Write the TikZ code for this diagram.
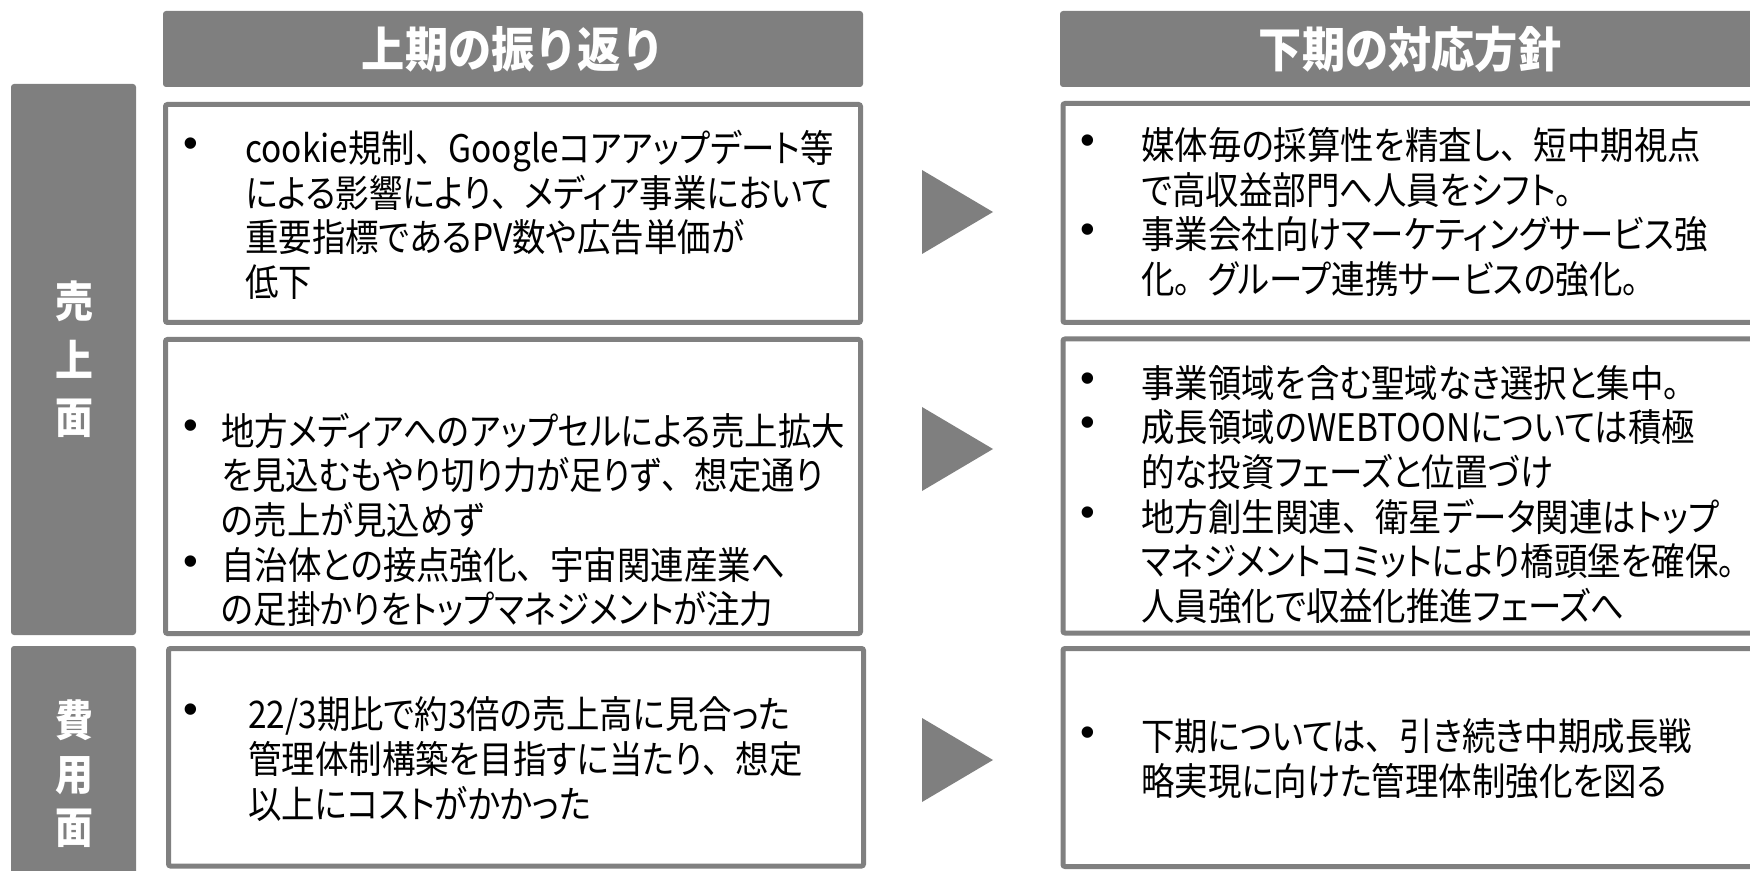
\documentclass[tikz,border=0pt]{standalone}
\usepackage{fontspec}
\setmainfont{Noto Sans CJK JP}[RawFeature={+palt}, FakeStretch=0.88]
\newfontfamily\fwfont{Noto Sans CJK JP}[FakeStretch=0.88]
\newfontfamily\hdrfont{Noto Sans CJK JP}[FakeStretch=0.9]
\newfontfamily\bulfont{Liberation Sans}
\newcommand\tn{{\fwfont 、}}
\newcommand\mr{{\fwfont 。}}
\definecolor{hdrgray}{HTML}{7F7F7F}
\definecolor{boxgray}{HTML}{808080}
\begin{document}
\begin{tikzpicture}[x=0.5pt,y=-0.5pt,
  hdr/.style={fill=hdrgray, draw=none, rounded corners=1.5pt},
  txtbox/.style={draw=boxgray, line width=2.5pt, fill=white, rounded corners=1pt},
  body/.style={font=\fontsize{19}{22.3}\selectfont, align=left, anchor=west, inner sep=0pt, text=black},
  bul/.style={font=\bulfont\fontsize{21}{21}\selectfont, inner sep=0pt},
  tri/.style={fill=hdrgray, draw=none},
  htext/.style={text=white, font=\hdrfont\bfseries\fontsize{24}{24}\selectfont, inner sep=0pt},
  ltext/.style={text=white, font=\bfseries\fontsize{21.5}{21.5}\selectfont, inner sep=0pt}]
\useasboundingbox (0,0) rectangle (1750,871);
\clip (0,0) rectangle (1750,871);
% headers
\fill[hdr] (163,11) rectangle (863,87);
\fill[hdr] (1060,11) rectangle (1770,87);
\node[htext] (h1) at (513,49) {上期の振り返り};
\node[htext] (h2) at (1410,49) {下期の対応方針};
% left labels
\fill[hdr] (11,84) rectangle (136,635);
\fill[hdr] (11,646) rectangle (136,880);
\node[ltext] (s1) at (74,301) {売};
\node[ltext] (s2) at (74,359) {上};
\node[ltext] (s3) at (74,418) {面};
\node[ltext] (c1) at (74,720) {費};
\node[ltext] (c2) at (74,776) {用};
\node[ltext] (c3) at (74,828) {面};
% boxes
\draw[txtbox] (165.5,104.5) rectangle (860.5,322.5);
\draw[txtbox] (165.5,339.5) rectangle (860.5,633.5);
\draw[txtbox] (168.5,648.5) rectangle (863.5,866);
\draw[txtbox] (1063,103.5) rectangle (1770,322.5);
\draw[txtbox] (1063,339) rectangle (1770,633);
\draw[txtbox] (1063,648.5) rectangle (1770,866.5);
% triangles
\fill[tri] (922,170) -- (922,254) -- (993,212) -- cycle;
\fill[tri] (922,407) -- (922,491) -- (993,449) -- cycle;
\fill[tri] (922,718) -- (922,802) -- (993,760) -- cycle;
% left texts
\node[bul] (lb1) at (191,148) {•};
\node[body] (l1) at (245,215) {cookie規制\tn Googleコアアップデート等\\による影響により\tn メディア事業において\\重要指標であるPV数や広告単価が\\低下};
\node[bul] (lb2) at (191,430) {•};
\node[bul] (lb3) at (191,566) {•};
\node[body] (l2) at (221,520) {地方メディアへのアップセルによる売上拡大\\を見込むもやり切り力が足りず\tn 想定通り\\の売上が見込めず\\自治体との接点強化\tn 宇宙関連産業へ\\の足掛かりをトップマネジメントが注力};
\node[bul] (lb4) at (191,714) {•};
\node[body] (l3) at (248,759) {22/3期比で約3倍の売上高に見合った\\管理体制構築を目指すに当たり\tn 想定\\以上にコストがかかった};
% right texts
\node[bul] (rb1) at (1088,145) {•};
\node[bul] (rb2) at (1088,234) {•};
\node[body] (r1) at (1141,212) {媒体毎の採算性を精査し\tn 短中期視点\\で高収益部門へ人員をシフト\mr\\事業会社向けマーケティングサービス強\\化\mr グループ連携サービスの強化\mr};
\node[bul] (rb3) at (1088,383) {•};
\node[bul] (rb4) at (1088,427) {•};
\node[bul] (rb5) at (1088,517) {•};
\node[body] (r2) at (1141,494.5) {事業領域を含む聖域なき選択と集中\mr\\成長領域のWEBTOONについては積極\\的な投資フェーズと位置づけ\\地方創生関連\tn 衛星データ関連はトップ\\マネジメントコミットにより橋頭堡を確保\mr\\人員強化で収益化推進フェーズへ};
\node[bul] (rb6) at (1088,737) {•};
\node[body] (r3) at (1141,759) {下期については\tn 引き続き中期成長戦\\略実現に向けた管理体制強化を図る};
\end{tikzpicture}
\end{document}
